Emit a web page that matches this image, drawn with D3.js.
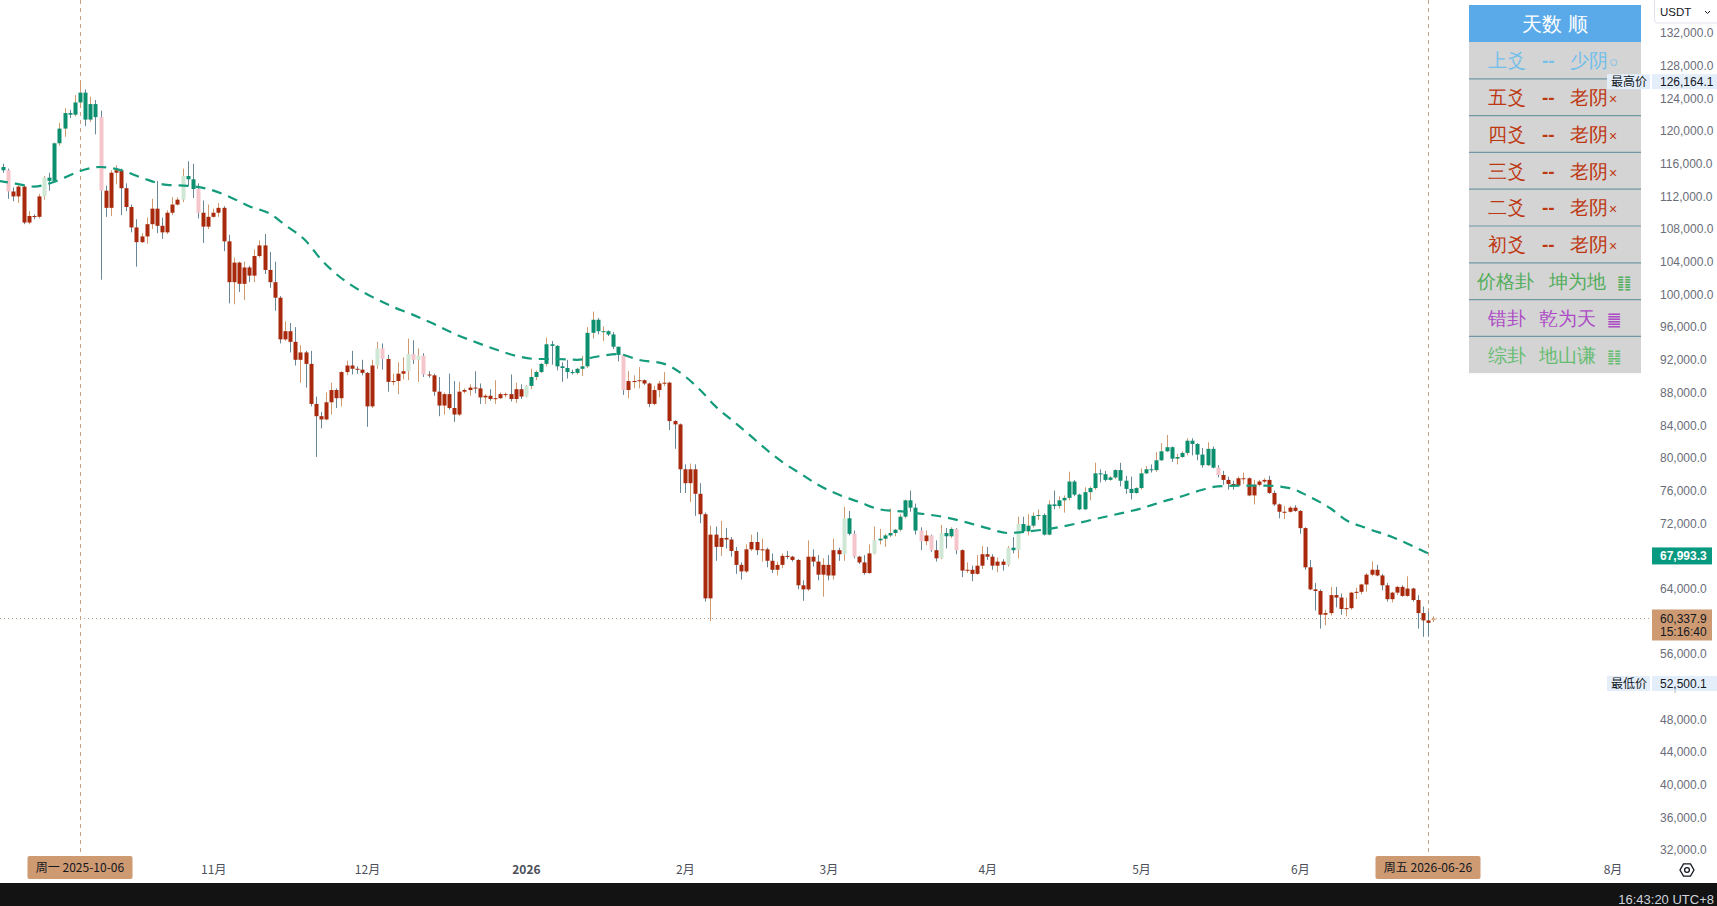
<!DOCTYPE html>
<html>
<head>
<meta charset="utf-8">
<script src="https://cdn.jsdelivr.net/npm/d3@7"></script>
<style>
  html, body { margin: 0; padding: 0; background: #ffffff; overflow: hidden; }
  svg { display: block; }
  text { font-family: "Liberation Sans", Arial, sans-serif; }
  .cjk { font-family: "Noto Sans CJK SC", "Liberation Sans", sans-serif; }
</style>
</head>
<body>
<svg id="chart" width="1717" height="906"></svg>
<script>

// daily candles, BTC/USDT, values in thousands: [open, high, low, close]
var firstDay = "2025-09-21";
var candlesK = [
  [115.6,116.0,114.9,115.2],[115.2,115.4,111.7,112.6],[112.6,113.1,111.4,112.0],[112.0,113.4,111.2,113.2],
  [113.2,113.4,108.6,108.8],[108.8,110.2,108.6,109.6],[109.6,109.8,109.2,109.5],[109.5,112.3,109.3,112.0],
  [112.0,114.5,111.6,114.3],[114.3,114.9,112.7,113.9],
  // Oct
  [113.9,118.6,113.8,118.5],[118.5,121.0,118.2,120.3],[120.3,122.8,119.3,122.2],[122.2,122.6,121.6,122.0],
  [122.0,124.4,121.8,123.5],[123.5,126.16,122.8,124.7],[124.7,125.1,120.6,121.4],[121.4,124.2,121.1,123.3],
  [123.3,123.8,119.6,121.7],[121.7,122.5,101.8,112.7],[112.7,113.3,109.5,110.6],[110.6,115.2,109.6,114.9],
  [114.9,115.8,113.5,115.2],[115.2,115.4,109.7,113.0],[113.0,113.6,110.2,110.7],[110.7,111.0,107.6,108.2],
  [108.2,109.2,103.4,106.4],[106.4,107.5,106.3,107.1],[107.1,109.4,106.2,108.6],[108.6,111.7,108.0,110.5],
  [110.5,113.9,107.5,108.4],[108.4,109.4,106.8,107.6],[107.6,110.3,107.4,110.0],[110.0,111.9,109.7,111.0],
  [111.0,111.9,110.9,111.6],[111.6,115.4,111.3,114.5],[114.5,116.3,113.3,114.1],[114.1,116.0,111.8,112.9],
  [112.9,113.6,109.3,110.0],[110.0,111.5,106.3,108.3],[108.3,111.0,108.0,109.5],
  // Nov
  [109.5,110.5,109.4,110.0],[110.0,111.2,109.5,110.6],[110.6,110.8,105.3,106.5],[106.5,107.3,98.9,101.5],
  [101.5,104.5,98.8,103.9],[103.9,104.0,100.3,101.3],[101.3,104.0,99.3,103.3],[103.3,103.5,101.5,102.3],
  [102.3,105.5,101.5,104.7],[104.7,106.6,104.5,106.0],[106.0,107.4,102.5,103.0],[103.0,105.2,100.8,101.5],
  [101.5,104.0,98.0,99.6],[99.6,99.8,94.0,94.5],[94.5,96.7,94.3,95.5],[95.5,96.5,92.9,94.2],
  [94.2,96.0,91.3,92.0],[92.0,93.8,89.2,92.9],[92.9,93.1,88.6,91.5],[91.5,93.1,86.3,86.6],
  [86.6,87.5,80.1,85.1],[85.1,85.6,83.6,84.7],[84.7,88.0,84.6,86.8],[86.8,89.2,85.3,88.3],
  [88.3,88.5,86.1,87.3],[87.3,90.6,86.3,90.5],[90.5,91.9,90.1,91.3],[91.3,93.1,90.2,90.9],
  [90.9,91.2,90.3,90.8],[90.8,92.0,90.1,90.4],
  // Dec
  [90.4,90.5,83.8,86.3],[86.3,92.0,86.1,91.3],[91.3,94.2,90.9,93.4],[93.4,94.0,90.8,92.1],
  [92.1,92.6,88.1,89.3],[89.3,90.3,88.9,89.4],[89.4,91.7,87.8,90.3],[90.3,92.3,89.6,90.6],
  [90.6,94.6,89.5,92.7],[92.7,94.4,91.5,92.0],[92.0,93.4,89.3,92.5],[92.5,92.8,89.9,90.2],
  [90.2,90.6,89.8,90.1],[90.1,90.3,87.6,88.1],[88.1,89.9,85.1,86.4],[86.4,88.0,85.3,87.8],
  [87.8,90.3,85.9,86.1],[86.1,89.4,84.4,85.3],[85.3,89.3,85.1,88.1],[88.1,88.5,87.9,88.3],
  [88.3,89.0,87.6,88.6],[88.6,90.6,87.9,88.5],[88.5,89.1,86.6,87.4],[87.4,87.8,86.6,87.6],
  [87.6,88.4,87.0,87.2],[87.2,89.5,86.6,87.3],[87.3,88.0,87.2,87.8],[87.8,88.0,87.4,87.8],
  [87.8,90.2,86.9,87.2],[87.2,89.2,86.7,88.4],[88.4,89.0,87.2,87.5],
  // Jan
  [87.5,88.9,87.4,88.8],[88.8,90.9,88.4,89.9],[89.9,90.7,89.5,90.5],[90.5,91.6,90.4,91.5],
  [91.5,94.7,91.2,93.9],[93.9,94.3,91.4,93.7],[93.7,93.8,90.7,91.2],[91.2,91.7,89.3,91.0],
  [91.0,92.0,89.7,90.5],[90.5,90.8,90.2,90.4],[90.4,91.0,90.2,90.9],[90.9,92.5,90.0,91.2],
  [91.2,96.0,91.0,95.3],[95.3,97.9,94.6,96.9],[96.9,97.1,95.1,95.5],[95.5,96.1,94.3,95.5],
  [95.5,95.6,94.9,95.1],[95.1,95.4,93.3,93.6],[93.6,93.6,91.8,92.6],[92.6,92.7,87.7,88.3],
  [88.3,90.6,87.3,89.4],[89.4,90.1,88.5,89.4],[89.4,91.1,88.5,89.5],[89.5,89.6,88.9,89.1],
  [89.1,89.2,86.2,86.6],[86.6,88.8,86.4,88.3],[88.3,89.4,87.4,89.1],[89.1,90.5,88.8,89.2],
  [89.2,89.3,83.4,84.5],[84.5,84.6,81.1,84.1],[84.1,84.2,75.7,78.6],
  // Feb
  [78.6,79.2,75.7,76.9],[76.9,79.3,74.6,78.6],[78.6,79.2,72.9,75.6],[75.6,76.9,72.0,73.1],
  [73.1,73.3,62.4,62.8],[62.8,71.7,60.0,70.6],[70.6,71.6,67.4,69.1],[69.1,72.3,68.0,70.2],
  [70.2,71.4,68.9,70.0],[70.0,70.3,67.9,68.6],[68.6,69.1,65.8,66.9],[66.9,67.2,65.1,66.1],
  [66.1,69.4,65.9,68.8],[68.8,70.6,68.6,69.7],[69.7,70.9,68.1,68.7],[68.7,70.1,67.3,68.8],
  [68.8,69.0,66.6,67.4],[67.4,68.3,65.9,66.3],[66.3,67.3,65.6,66.9],[66.9,68.3,66.5,68.0],
  [68.0,68.6,67.6,67.9],[67.9,68.0,67.3,67.5],[67.5,67.6,63.9,64.4],[64.4,65.0,62.5,63.9],
  [63.9,69.9,63.7,67.9],[67.9,68.8,66.7,67.3],[67.3,68.1,65.0,65.7],[65.7,67.7,63.0,66.9],
  // Mar
  [66.9,68.1,65.0,65.6],[65.6,70.1,65.1,68.7],[68.7,69.0,67.4,68.2],[68.2,74.0,67.4,72.6],
  [72.6,73.5,70.5,70.7],[70.7,71.1,67.7,67.9],[67.9,68.0,67.0,67.2],[67.2,68.1,65.7,65.9],
  [65.9,69.4,65.8,68.3],[68.3,71.6,68.2,69.9],[69.9,71.3,69.4,70.1],[70.1,70.7,69.1,70.5],
  [70.5,73.8,70.3,70.8],[70.8,71.3,70.4,71.2],[71.2,73.1,71.0,72.8],[72.8,74.9,72.6,74.8],
  [74.8,76.0,73.4,73.9],[73.9,74.4,70.6,71.1],[71.1,71.5,68.7,69.8],[69.8,71.1,69.3,70.5],
  [70.5,70.6,68.5,68.7],[68.7,69.9,67.3,67.7],[67.7,71.8,67.6,70.8],[70.8,71.4,68.9,70.4],
  [70.4,71.5,70.2,71.3],[71.3,71.4,68.2,68.7],[68.7,68.8,65.4,66.2],[66.2,67.2,65.9,66.3],
  [66.3,66.8,64.9,65.8],[65.8,68.1,65.7,66.8],[66.8,69.2,66.4,68.2],
  // Apr
  [68.2,69.1,67.5,67.9],[67.9,68.2,66.3,66.8],[66.8,67.8,66.0,67.3],[67.3,67.6,66.2,66.9],
  [66.9,69.2,66.7,69.0],[69.0,70.3,68.3,68.7],[68.7,72.8,67.7,71.9],[71.9,72.8,70.8,71.0],
  [71.0,73.1,70.5,71.7],[71.7,73.3,71.5,72.9],[72.9,73.7,72.4,73.0],[73.0,73.2,70.5,70.6],
  [70.6,74.8,70.5,74.3],[74.3,76.0,73.7,74.1],[74.1,75.3,73.8,74.8],[74.8,75.4,73.3,75.1],
  [75.1,78.3,74.8,77.1],[77.1,77.3,75.3,75.5],[75.5,75.6,73.6,73.7],[73.7,76.4,73.6,75.8],
  [75.8,76.5,74.8,76.3],[76.3,79.4,76.1,78.1],[78.1,78.6,77.0,78.0],[78.0,78.4,77.1,77.3],
  [77.3,77.8,77.2,77.6],[77.6,78.6,77.4,78.5],[78.5,79.4,76.5,77.2],[77.2,77.8,75.6,76.2],
  [76.2,77.7,74.9,75.7],[75.7,76.4,75.6,76.3],
  // May
  [76.3,78.7,76.1,78.1],[78.1,79.0,78.0,78.6],[78.6,79.2,78.2,78.5],[78.5,80.7,78.3,79.7],
  [79.7,81.8,79.6,80.8],[80.8,82.8,80.7,81.3],[81.3,81.4,79.5,79.9],[79.9,80.5,79.2,80.1],
  [80.1,80.8,80.0,80.6],[80.6,82.4,80.3,82.1],[82.1,82.4,80.3,81.7],[81.7,81.8,79.7,80.4],
  [80.4,81.2,78.8,79.1],[79.1,81.9,79.0,81.1],[81.1,81.4,78.7,78.8],[78.8,79.1,77.6,77.9],
  [77.9,78.4,76.7,77.3],[77.3,77.7,76.1,76.8],[76.8,77.2,76.1,76.6],[76.6,77.7,76.5,77.5],
  [77.5,78.2,76.8,77.5],[77.5,77.6,75.3,75.4],[75.4,77.3,74.3,76.7],[76.7,77.3,76.5,77.1],
  [77.1,77.5,76.9,77.3],[77.3,77.8,75.6,75.7],[75.7,76.0,74.1,74.3],[74.3,74.4,72.6,73.4],
  [73.4,74.1,72.5,73.4],[73.4,74.1,73.3,73.9],[73.9,74.2,73.4,73.5],
  // Jun
  [73.5,73.6,70.7,71.4],[71.4,71.5,66.3,66.6],[66.6,67.5,63.8,63.9],[63.9,64.7,61.3,63.7],
  [63.7,63.9,59.1,60.8],[60.8,61.4,59.5,61.0],[61.0,64.2,60.7,63.2],[63.2,64.2,61.7,62.9],
  [62.9,63.4,60.8,61.5],[61.5,62.9,60.6,61.6],[61.6,63.6,61.4,63.5],[63.5,64.1,62.7,63.6],
  [63.6,64.6,63.3,64.5],[64.5,65.9,63.6,65.7],[65.7,67.3,65.5,66.3],[66.3,66.9,65.5,65.6],
  [65.6,65.8,63.8,64.4],[64.4,64.7,62.4,62.7],[62.7,63.6,62.3,63.5],[63.5,64.3,63.2,64.2],
  [64.2,64.4,63.0,63.1],[63.1,65.5,63.0,64.0],[64.0,64.1,62.4,62.6],[62.6,63.2,59.1,61.0],
  [61.0,61.8,58.1,60.1],[60.1,61.2,58.1,59.8],[60.15,60.6,59.9,60.3379]
];

// bar colour signal per candle (run lengths): G above, R below, g/r pale turns, o live bar
var signalRuns = [
  ["G",1],["r",1],["R",6],["g",1],["G",10],["r",1],["R",15],["g",1],["G",2],["r",1],
  ["R",34],["g",1],["r",1],["R",4],["g",1],["r",1],["g",1],["r",1],["R",19],["g",1],
  ["G",18],["r",1],["R",42],["g",1],["G",1],["r",1],["R",3],["g",1],["G",8],["r",1],
  ["R",1],["r",1],["R",1],["g",1],["G",2],["r",1],["R",9],["g",1],["G",1],["g",1],
  ["G",38],["r",1],["R",41],["o",1]
];

// dashed moving average
var maDates = ["2025-09-20","2025-09-24","2025-09-27","2025-10-01","2025-10-03","2025-10-06","2025-10-10",
  "2025-10-14","2025-10-18","2025-10-23","2025-10-27","2025-10-31","2025-11-04","2025-11-08","2025-11-12",
  "2025-11-15","2025-11-19","2025-11-22","2025-11-25","2025-11-28","2025-12-02","2025-12-06","2025-12-10",
  "2025-12-14","2025-12-18","2025-12-22","2025-12-26","2025-12-30","2026-01-03","2026-01-07","2026-01-11",
  "2026-01-15","2026-01-19","2026-01-23","2026-01-28","2026-02-01","2026-02-04","2026-02-07","2026-02-11",
  "2026-02-14","2026-02-16","2026-02-20","2026-02-24","2026-02-27","2026-03-03","2026-03-07","2026-03-11",
  "2026-03-16","2026-03-20","2026-03-24","2026-03-28","2026-04-01","2026-04-05","2026-04-09","2026-04-14",
  "2026-04-18","2026-04-22","2026-04-27","2026-05-01","2026-05-05","2026-05-09","2026-05-13","2026-05-16",
  "2026-05-21","2026-05-25","2026-05-30","2026-06-03","2026-06-07","2026-06-10","2026-06-14","2026-06-19",
  "2026-06-23","2026-06-27"];
var maValuesK = [113.9,113.5,113.2,113.8,114.3,115.1,115.6,
  115.2,114.3,113.4,113.3,112.9,112.0,110.8,109.9,
  108.5,106.6,104.3,102.5,101.1,99.7,98.5,97.5,
  96.4,95.2,94.2,93.3,92.5,92.1,92.1,92.0,
  92.4,92.7,92.0,91.5,90.0,88.3,86.3,84.2,
  82.6,81.5,79.5,77.9,76.7,75.5,74.6,73.7,
  73.4,73.1,72.7,72.1,71.4,70.8,71.0,71.4,
  71.9,72.5,73.2,73.8,74.6,75.3,76.1,76.5,
  76.6,76.6,76.3,75.2,73.8,72.4,71.4,70.3,
  69.2,67.9933];

var priceTicks = [132000,128000,124000,120000,116000,112000,108000,104000,100000,96000,92000,88000,
  84000,80000,76000,72000,68000,64000,60000,56000,52000,48000,44000,40000,36000,32000];

// 7月 sits under the marked date box, so it is not listed
var monthDates = ["2025-11-01","2025-12-01","2026-01-01","2026-02-01","2026-03-01","2026-04-01",
  "2026-05-01","2026-06-01","2026-08-01"];
var monthLabels = ["11月","12月","2026","2月","3月","4月","5月","6月","8月"];

var markedDates = ["2025-10-06","2026-06-26"];
var markedLabels = ["周一 2025-10-06","周五 2026-06-26"];

var highPrice = 126164.1,
    lowPrice = 52500.1,
    maLast = 67993.3,
    lastPrice = 60337.9,
    countdown = "15:16:40",
    clockText = "16:43:20 UTC+8";

var tableTitle = "天数 顺";
var yaoNames = ["上爻","五爻","四爻","三爻","二爻","初爻"];
var yaoValues = ["少阴","老阴","老阴","老阴","老阴","老阴"];
var yaoMarks = ["○","×","×","×","×","×"];
var guaLabels = ["价格卦","错卦","综卦"];
var guaNames = ["坤为地","乾为天","地山谦"];
var guaSymbols = ["䷁","䷀","䷎"];


function init() {
    var svg = d3.select("#chart");
    var W = 1717, H = 906;

    var bodyColor = { G: "#0b8f6f", R: "#a8290b", g: "#cfe7d5", r: "#f5c5cc", o: "#dfa37b" };
    var wickUp = "#cf9a6f", wickDown = "#6a8797";
    var tan = "#cd9a72";

    var x = d3.scaleUtc()
        .domain([new Date(markedDates[0]), new Date(markedDates[1])])
        .range([80, 1428]);
    var y = d3.scaleLinear().domain([32000, 132000]).range([850, 33]);

    // expand the signal runs into one code per candle
    var signals = [];
    signalRuns.forEach(function(r) { for (var k = 0; k < r[1]; k++) signals.push(r[0]); });

    var start = new Date(firstDay);
    var bars = candlesK.map(function(c, i) {
        return { date: d3.utcDay.offset(start, i), o: c[0] * 1000, h: c[1] * 1000,
                 l: c[2] * 1000, c: c[3] * 1000, s: signals[i] };
    });
    var ma = maDates.map(function(d, i) { return { date: new Date(d), v: maValuesK[i] * 1000 }; });

    svg.append("rect").attr("width", W).attr("height", H).attr("fill", "#ffffff");

    svg.append("defs").append("clipPath").attr("id", "plot")
        .append("rect").attr("x", 0).attr("y", 0).attr("width", 1652).attr("height", 856);

    var plot = svg.append("g").attr("clip-path", "url(#plot)");

    // last price dotted line
    plot.append("line")
        .attr("x1", 0).attr("x2", 1652)
        .attr("y1", Math.round(y(lastPrice)) + 0.5).attr("y2", Math.round(y(lastPrice)) + 0.5)
        .attr("stroke", "#b39c88").attr("stroke-width", 1).attr("stroke-dasharray", "1 3");

    // vertical marker lines
    plot.selectAll(".vmark").data(markedDates).enter().append("line")
        .attr("x1", function(d) { return Math.round(x(new Date(d))) + 0.5; })
        .attr("x2", function(d) { return Math.round(x(new Date(d))) + 0.5; })
        .attr("y1", 0).attr("y2", 856)
        .attr("stroke", "#c9a080").attr("stroke-width", 1).attr("stroke-dasharray", "4 4");

    // wicks
    plot.selectAll(".wick").data(bars).enter().append("line")
        .attr("x1", function(d) { return Math.round(x(d.date)) + 0.5; })
        .attr("x2", function(d) { return Math.round(x(d.date)) + 0.5; })
        .attr("y1", function(d) { return y(d.h); })
        .attr("y2", function(d) { return y(d.l); })
        .attr("stroke", function(d) { return d.c >= d.o ? wickUp : wickDown; })
        .attr("stroke-width", 1);

    // bodies
    plot.selectAll(".body").data(bars).enter().append("rect")
        .attr("x", function(d) { return Math.round(x(d.date)) - 1.5; })
        .attr("width", 4)
        .attr("y", function(d) { return y(Math.max(d.o, d.c)); })
        .attr("height", function(d) { return Math.max(1, Math.abs(y(d.o) - y(d.c))); })
        .attr("fill", function(d) { return bodyColor[d.s]; });

    // moving average
    var line = d3.line()
        .x(function(d) { return x(d.date); })
        .y(function(d) { return y(d.v); })
        .curve(d3.curveMonotoneX);
    plot.append("path").datum(ma)
        .attr("d", line)
        .attr("fill", "none")
        .attr("stroke", "#139b7b")
        .attr("stroke-width", 2.2)
        .attr("stroke-dasharray", "10 7");

    drawTable(svg);

    // price axis
    var yAxis = d3.axisRight(y).tickValues(priceTicks).tickSize(0).tickPadding(4)
        .tickFormat(d3.format(",.1f"));
    var ya = svg.append("g").attr("transform", "translate(1656,0)").call(yAxis);
    ya.select(".domain").remove();
    ya.selectAll("text")
        .attr("font-family", "Liberation Sans, Arial, sans-serif")
        .attr("font-size", 12).attr("fill", "#6a6d78");

    // time axis
    var xAxis = d3.axisBottom(x).tickValues(monthDates.map(function(d) { return new Date(d); }))
        .tickSize(0).tickPadding(3)
        .tickFormat(function(d, i) { return monthLabels[i]; });
    var xa = svg.append("g").attr("transform", "translate(0,862)").call(xAxis);
    xa.select(".domain").remove();
    xa.selectAll("text")
        .attr("class", "cjk")
        .attr("font-family", "Noto Sans CJK SC, sans-serif")
        .attr("font-size", 12).attr("fill", "#4c4f5a")
        .attr("font-weight", function(d, i) { return monthLabels[i] === "2026" ? 700 : 400; });

    // marked date boxes
    var mk = svg.selectAll(".mk").data(markedDates).enter().append("g")
        .attr("transform", function(d) { return "translate(" + x(new Date(d)) + ",0)"; });
    mk.append("rect").attr("x", -52.5).attr("y", 856).attr("width", 105).attr("height", 23)
        .attr("rx", 2).attr("fill", tan);
    mk.append("text").attr("class", "cjk").attr("x", 0).attr("y", 872)
        .attr("text-anchor", "middle").attr("font-size", 12).attr("fill", "#131722")
        .text(function(d, i) { return markedLabels[i]; });

    // price labels on the axis (drawn over the table)
    function pairLabel(price, name) {
        var cy = y(price) + 1;
        var g = svg.append("g");
        g.append("rect").attr("x", 1607).attr("y", cy - 7.5).attr("width", 43).attr("height", 15)
            .attr("fill", "#e4eefb");
        g.append("rect").attr("x", 1652).attr("y", cy - 7.5).attr("width", 65).attr("height", 15)
            .attr("fill", "#e4eefb");
        g.append("text").attr("class", "cjk").attr("x", 1611).attr("y", cy + 4)
            .attr("font-size", 12).attr("fill", "#131722").text(name);
        g.append("text").attr("x", 1660).attr("y", cy + 4.5)
            .attr("font-size", 12).attr("fill", "#131722").text(d3.format(",.1f")(price));
    }
    pairLabel(highPrice, "最高价");
    pairLabel(lowPrice, "最低价");

    var my = y(maLast);
    svg.append("rect").attr("x", 1652).attr("y", my - 8.5).attr("width", 60).attr("height", 17)
        .attr("fill", "#089981");
    svg.append("text").attr("x", 1660).attr("y", my + 4.5).attr("font-size", 12)
        .attr("font-weight", 700).attr("fill", "#ffffff").text(d3.format(",.1f")(maLast));

    var ly = y(lastPrice);
    svg.append("rect").attr("x", 1652).attr("y", ly - 9).attr("width", 60).attr("height", 31)
        .attr("fill", tan);
    svg.append("text").attr("x", 1660).attr("y", ly + 4.5).attr("font-size", 12)
        .attr("fill", "#131722").text(d3.format(",.1f")(lastPrice));
    svg.append("text").attr("x", 1660).attr("y", ly + 18).attr("font-size", 12)
        .attr("fill", "#131722").text(countdown);

    // currency box
    svg.append("rect").attr("x", 1654.5).attr("y", -2).attr("width", 66).attr("height", 25)
        .attr("rx", 3).attr("fill", "#ffffff").attr("stroke", "#e0e3eb");
    svg.append("text").attr("x", 1660).attr("y", 16).attr("font-size", 11.5)
        .attr("fill", "#131722").text("USDT");
    svg.append("path").attr("d", "M1705,11 l2.5,2.5 l2.5,-2.5").attr("fill", "none")
        .attr("stroke", "#131722").attr("stroke-width", 1);

    // settings icon
    var gx = 1687, gy = 870;
    var hex = d3.range(6).map(function(k) {
        var a = Math.PI / 3 * k;
        return [gx + 7 * Math.cos(a), gy + 7 * Math.sin(a)];
    });
    svg.append("path").attr("d", "M" + hex.join("L") + "Z").attr("fill", "none")
        .attr("stroke", "#131722").attr("stroke-width", 1.3);
    svg.append("circle").attr("cx", gx).attr("cy", gy).attr("r", 2.4).attr("fill", "none")
        .attr("stroke", "#131722").attr("stroke-width", 1.3);

    // bottom bar
    svg.append("rect").attr("x", 0).attr("y", 883).attr("width", W).attr("height", H - 883)
        .attr("fill", "#131313");
    svg.append("text").attr("x", 1714).attr("y", 904).attr("text-anchor", "end")
        .attr("font-size", 13).attr("fill", "#d1d4dc").text(clockText);
}

function drawTable(svg) {
    var left = 1469, right = 1641, top = 5, headH = 37, rowH = 36.8;
    var t = svg.append("g").attr("class", "cjk");

    t.append("rect").attr("x", left).attr("y", top).attr("width", right - left).attr("height", headH)
        .attr("fill", "#5aaaea");
    t.append("text").attr("x", (left + right) / 2).attr("y", top + headH / 2)
        .attr("dy", "0.36em").attr("text-anchor", "middle")
        .attr("font-size", 20).attr("fill", "#ffffff").text(tableTitle);

    var rowsTop = top + headH;
    var nRows = yaoNames.length + guaLabels.length;
    t.append("rect").attr("x", left).attr("y", rowsTop).attr("width", right - left)
        .attr("height", rowH * nRows).attr("fill", "#d4d4d4");
    for (var i = 1; i < nRows; i++) {
        t.append("line").attr("x1", left).attr("x2", right)
            .attr("y1", rowsTop + rowH * i).attr("y2", rowsTop + rowH * i)
            .attr("stroke", "#6f98a4").attr("stroke-width", 1.2);
    }

    yaoNames.forEach(function(name, i) {
        var cy = rowsTop + rowH * (i + 0.5);
        var col = i === 0 ? "#72bfea" : "#bd3811";
        var tx = t.append("text").attr("y", cy).attr("dy", "0.36em")
            .attr("font-size", 19).attr("fill", col);
        tx.append("tspan").attr("x", 1488).text(name);
        tx.append("tspan").attr("x", 1542).attr("font-weight", 700).text("--");
        tx.append("tspan").attr("x", 1570).text(yaoValues[i]);
        tx.append("tspan").attr("font-size", i === 0 ? 15 : 14).attr("dx", 1).text(yaoMarks[i]);
    });

    var guaCols = ["#52ad5c", "#ad4cc6", "#66bd72"];
    var labelX = [1477, 1488, 1488], nameX = [1549, 1539, 1539], symX = [1617, 1607, 1607];
    guaLabels.forEach(function(lab, j) {
        var cy = rowsTop + rowH * (yaoNames.length + j + 0.5);
        var tx = t.append("text").attr("y", cy).attr("dy", "0.36em")
            .attr("font-size", 19).attr("fill", guaCols[j]);
        tx.append("tspan").attr("x", labelX[j]).text(lab);
        tx.append("tspan").attr("x", nameX[j]).text(guaNames[j]);
        tx.append("tspan").attr("x", symX[j]).attr("font-family", "DejaVu Sans")
            .attr("font-size", 16).text(guaSymbols[j]);
    });
}

init();
</script>
</body>
</html>
